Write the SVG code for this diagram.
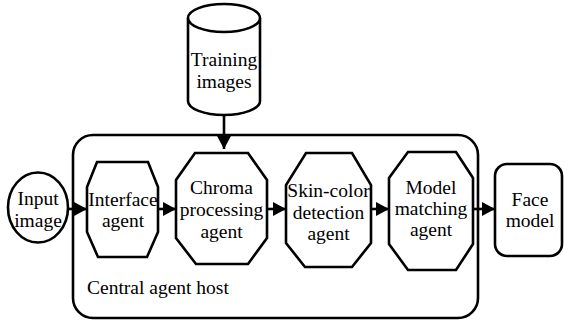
<svg xmlns="http://www.w3.org/2000/svg" width="564" height="322" viewBox="0 0 564 322">
<style>
.s{fill:#fff;stroke:#000;stroke-width:2.6;stroke-linejoin:miter}
.t{font-size:19.5px;fill:#000;text-anchor:middle}
.l{font-size:19.5px;fill:#000}
.c{stroke:#000;stroke-width:2.6;fill:none}
</style>
<defs>
<marker id="ah" markerWidth="13" markerHeight="14" refX="13" refY="7" orient="auto" markerUnits="userSpaceOnUse">
<path d="M0,0 L13,7 L0,14 Z" fill="#000"/>
</marker>
</defs>
<g font-family="'Liberation Serif', 'DejaVu Serif', serif">
<g id="host">
<rect class="s" x="73" y="135" width="405" height="183" rx="20" ry="20"/>
<text class="l" x="87" y="294">Central agent host</text>
</g>
<g id="training">
<path class="s" d="M188,18 V101 A36,14 0 0 0 260,101 V18"/>
<ellipse class="s" cx="224" cy="18" rx="36" ry="14"/>
<text class="t" x="224" y="66">Training</text>
<text class="t" x="224" y="88">images</text>
</g>
<g id="input">
<ellipse class="s" cx="38" cy="207.5" rx="30" ry="35"/>
<text class="t" x="38" y="205">Input</text>
<text class="t" x="38" y="227">image</text>
</g>
<g id="interface">
<polygon class="s" points="97,162 148,162 158,187 158,232 147,257 98,257 87,232 87,187"/>
<text class="t" x="123" y="206">Interface</text>
<text class="t" x="123" y="227">agent</text>
</g>
<g id="chroma">
<polygon class="s" points="195,153 248,153 267,180 267,238 248,264 196,264 176,238 176,180"/>
<text class="t" x="221.5" y="194">Chroma</text>
<text class="t" x="221.5" y="216">processing</text>
<text class="t" x="221.5" y="238">agent</text>
</g>
<g id="skin">
<polygon class="s" points="306,153 352,153 371,185 371,243 352,267 305,267 286,243 286,185"/>
<text class="t" x="328.5" y="197">Skin-color</text>
<text class="t" x="328.5" y="219">detection</text>
<text class="t" x="328.5" y="240">agent</text>
</g>
<g id="model">
<polygon class="s" points="408,152 456,152 473,178 473,244 456,270 408,270 389,244 389,178"/>
<text class="t" x="431" y="194">Model</text>
<text class="t" x="431" y="215">matching</text>
<text class="t" x="431" y="236">agent</text>
</g>
<g id="face">
<rect class="s" x="495" y="164" width="67" height="92" rx="12" ry="12"/>
<text class="t" x="530" y="206">Face</text>
<text class="t" x="530" y="227">model</text>
</g>
</g>
<g id="connectors">
<line class="c" x1="224" y1="115" x2="224" y2="149" marker-end="url(#ah)"/>
<line class="c" x1="68" y1="209" x2="87" y2="209" marker-end="url(#ah)"/>
<line class="c" x1="158" y1="209" x2="176" y2="209" marker-end="url(#ah)"/>
<line class="c" x1="267" y1="209" x2="286" y2="209" marker-end="url(#ah)"/>
<line class="c" x1="371" y1="209" x2="389" y2="209" marker-end="url(#ah)"/>
<line class="c" x1="473" y1="209" x2="495" y2="209" marker-end="url(#ah)"/>
</g>
</svg>
